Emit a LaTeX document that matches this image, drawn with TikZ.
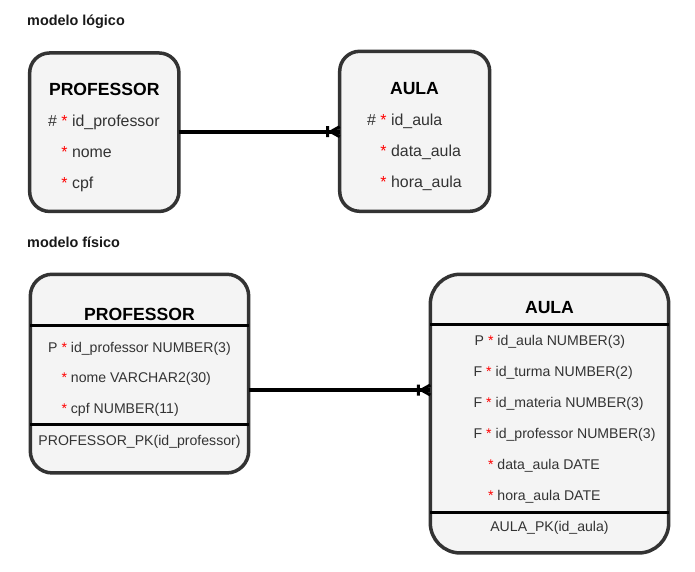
\documentclass[tikz,border=0pt]{standalone}
\usepackage{fontspec}
\setmainfont{Liberation Sans}
\usetikzlibrary{calc}
\definecolor{boxfill}{HTML}{F4F4F4}
\definecolor{boxline}{HTML}{333333}
\definecolor{rowtxt}{HTML}{333333}
\definecolor{astred}{HTML}{FF0000}
\newcommand\rast{{\color{astred}*}}
\begin{document}
\begin{tikzpicture}[x=1pt,y=-1pt,
 ent/.style={draw=boxline, fill=boxfill, line width=3.5pt, inner sep=0pt, outer sep=0pt},
 ttl/.style={anchor=base, font=\fontsize{17.6}{20}\selectfont\bfseries, text=black, inner sep=0pt},
 lrow/.style={anchor=base west, font=\fontsize{15.9}{18}\selectfont, text=rowtxt, inner sep=0pt},
 prow/.style={anchor=base west, font=\fontsize{14.1}{16}\selectfont, text=rowtxt, inner sep=0pt},
 pk/.style={anchor=base, font=\fontsize{14.1}{16}\selectfont, text=rowtxt, inner sep=0pt},
 sect/.style={anchor=base west, font=\fontsize{14.4}{17}\selectfont\bfseries, text=black!90, inner sep=0pt},
 sep/.style={line width=3pt, black},
 rel/.style={line width=3.8pt, black},
 relhead/.style={line width=3pt, black}
]
\useasboundingbox[fill=white] (0,0) rectangle (695,571);

% section labels
\node[sect] (s1) at (27,25) {modelo lógico};
\node[sect] (s2) at (27,247) {modelo físico};

% ---------- logical model ----------
\node[ent, rounded corners=20pt, minimum width=149.3pt, minimum height=158.5pt] (lp) at (104.3,132.2) {};
\node[ttl] (lpt) at (104.3,95) {PROFESSOR};
\node[lrow] (lp1) at (48,126) {\# \rast{} id\_professor};
\node[lrow] (lp2) at (48,157) {\phantom{\#} \rast{} nome};
\node[lrow] (lp3) at (48,188) {\phantom{\#} \rast{} cpf};

\node[ent, rounded corners=20pt, minimum width=150pt, minimum height=160pt] (la) at (414.7,131.3) {};
\node[ttl] (lat) at (414.5,94) {AULA};
\node[lrow] (la1) at (367,125.5) {\# \rast{} id\_aula};
\node[lrow] (la2) at (367,156) {\phantom{\#} \rast{} data\_aula};
\node[lrow] (la3) at (367,187) {\phantom{\#} \rast{} hora\_aula};

% ---------- physical model ----------
\node[ent, rounded corners=22pt, minimum width=218.4pt, minimum height=198.7pt] (pp) at (139.5,373.6) {};
\node[ttl] (ppt) at (139.5,320) {PROFESSOR};
\draw[sep] (pp.west |- 0,325.7) -- (pp.east |- 0,325.7);
\node[prow] (pp1) at (48,352) {P \rast{} id\_professor NUMBER(3)};
\node[prow] (pp2) at (48,382) {\phantom{P} \rast{} nome VARCHAR2(30)};
\node[prow] (pp3) at (48,413) {\phantom{P} \rast{} cpf NUMBER(11)};
\draw[sep] (pp.west |- 0,424) -- (pp.east |- 0,424);
\node[pk] (ppk) at (139.5,445) {PROFESSOR\_PK(id\_professor)};

\node[ent, rounded corners=30pt, minimum width=238.4pt, minimum height=278.7pt] (pa) at (549.5,413.6) {};
\node[ttl] (pat) at (549.5,313.5) {AULA};
\draw[sep] (pa.west |- 0,324) -- (pa.east |- 0,324);
\node[prow] (pa1) at (474.5,345) {P \rast{} id\_aula NUMBER(3)};
\node[prow] (pa2) at (473.5,376) {F \rast{} id\_turma NUMBER(2)};
\node[prow] (pa3) at (473.5,407) {F \rast{} id\_materia NUMBER(3)};
\node[prow] (pa4) at (473.5,438) {F \rast{} id\_professor NUMBER(3)};
\node[prow] (pa5) at (474.5,469) {\phantom{P} \rast{} data\_aula DATE};
\node[prow] (pa6) at (474.5,500) {\phantom{P} \rast{} hora\_aula DATE};
\draw[sep] (pa.west |- 0,512.3) -- (pa.east |- 0,512.3);
\node[pk] (pak) at (549.5,531.5) {AULA\_PK(id\_aula)};

% ---------- relationships ----------
\coordinate (i) at (0,131.7);
\draw[rel] (lp.east |- i) -- (la.west |- i);
\coordinate (e1) at (la.west |- i);
\draw[relhead] ($(e1)+(-9,0)$) -- ($(e1)+(0,-5)$)
               ($(e1)+(-9,0)$) -- ($(e1)+(0,5)$)
               ($(e1)+(-12,-5.5)$) -- ($(e1)+(-12,5.5)$);

\coordinate (j) at (0,390);
\draw[rel] (pp.east |- j) -- (pa.west |- j);
\coordinate (e2) at (pa.west |- j);
\draw[relhead] ($(e2)+(-9,0)$) -- ($(e2)+(0,-5)$)
               ($(e2)+(-9,0)$) -- ($(e2)+(0,5)$)
               ($(e2)+(-12,-5.5)$) -- ($(e2)+(-12,5.5)$);
\end{tikzpicture}
\end{document}
